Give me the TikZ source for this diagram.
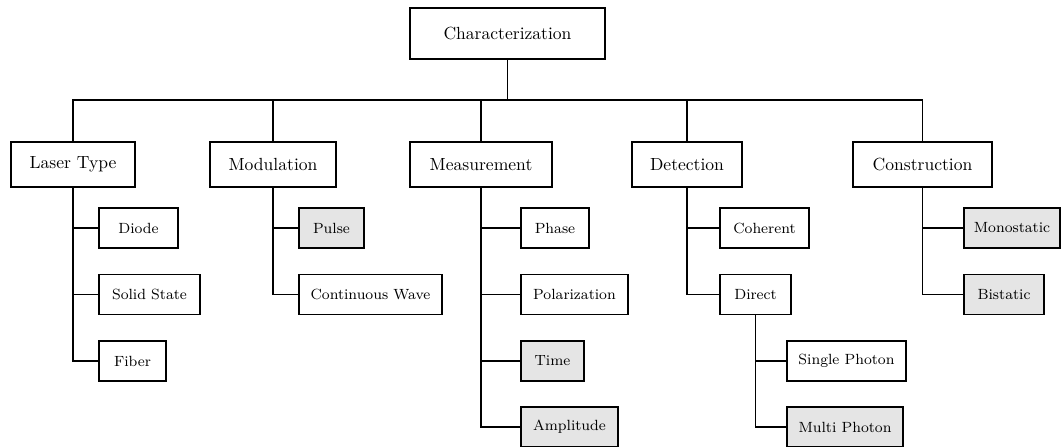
\documentclass[tikz,border=0pt]{standalone}
\usepackage{fontspec}
\def\pxu{0.569pt}
\tikzset{
  base/.style={draw, line width=1.1pt, inner sep=0pt, align=center},
  rootbox/.style={base, minimum height=51*\pxu, font=\fontsize{10}{12}\selectfont},
  catbox/.style={base, minimum height=45*\pxu, font=\fontsize{10}{12}\selectfont},
  leafbox/.style={base, minimum height=40*\pxu, font=\fontsize{8.4}{10}\selectfont},
  shaded/.style={fill=gray!20},
  link/.style={line width=0.6pt},
  w/.style={minimum width=#1*\pxu}
}
\begin{document}
\begin{tikzpicture}[x=\pxu, y=-\pxu]
\useasboundingbox (0,0) rectangle (1061,447);
\coordinate (bus) at (0,100);
\node[rootbox, w=195] (root) at (507.5,33.5) {Characterization};
\node[catbox, w=124] (lt) at (73,164.5) {Laser Type};
\node[catbox, w=126] (mod) at (273,164.5) {Modulation};
\node[catbox, w=142] (meas) at (481,164.5) {Measurement};
\node[catbox, w=110] (det) at (687,164.5) {Detection};
\node[catbox, w=139] (con) at (922.5,164.5) {Construction};
% Laser type
\node[leafbox, w=79] (diode) at (138.5,228) {Diode};
\node[leafbox, w=101] (solid) at (149.5,294.5) {Solid State};
\node[leafbox, w=67] (fiber) at (132.5,361) {Fiber};
% Modulation
\node[leafbox, shaded, w=65] (pulse) at (331.5,228) {Pulse};
\node[leafbox, w=143] (cw) at (370.5,294.5) {Continuous Wave};
% Measurement
\node[leafbox, w=68] (phase) at (555,228) {Phase};
\node[leafbox, w=107] (pol) at (574.5,294.5) {Polarization};
\node[leafbox, shaded, w=63] (time) at (552.5,361) {Time};
\node[leafbox, shaded, w=97] (amp) at (569.5,427) {Amplitude};
% Detection
\node[leafbox, w=89] (coh) at (764.5,228) {Coherent};
\node[leafbox, w=71] (direct) at (755.5,294.5) {Direct};
\node[leafbox, w=119] (single) at (846.5,361) {Single Photon};
\node[leafbox, shaded, w=116] (multi) at (845,427) {Multi Photon};
% Construction
\node[leafbox, shaded, w=96] (mono) at (1012,228) {Monostatic};
\node[leafbox, shaded, w=80] (bi) at (1004,294.5) {Bistatic};
% connectors
\draw[line width=1pt] (root.south) -- (root.south|-bus);
\foreach \n in {lt,mod,meas,det,con}
  \draw[link] (root.south|-bus) -| (\n.north);
\foreach \n in {diode,solid,fiber}
  \draw[link] (lt.south) |- (\n.west);
\foreach \n in {pulse,cw}
  \draw[link] (mod.south) |- (\n.west);
\foreach \n in {phase,pol,time,amp}
  \draw[link] (meas.south) |- (\n.west);
\foreach \n in {coh,direct}
  \draw[link] (det.south) |- (\n.west);
\foreach \n in {single,multi}
  \draw[link] (direct.south) |- (\n.west);
\foreach \n in {mono,bi}
  \draw[link] (con.south) |- (\n.west);
\end{tikzpicture}
\end{document}
